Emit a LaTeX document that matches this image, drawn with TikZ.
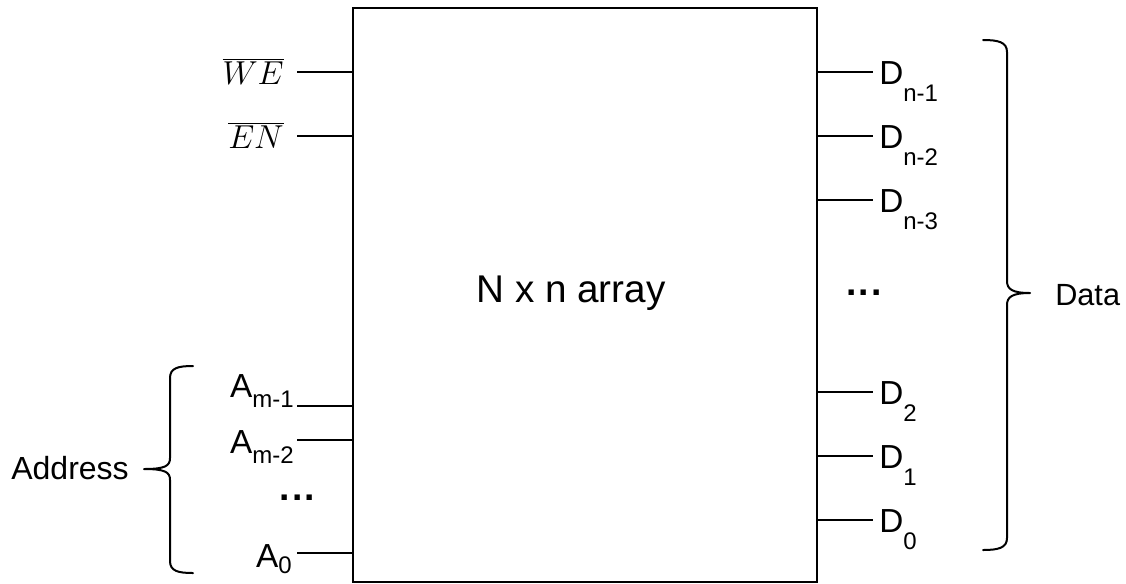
\documentclass[tikz,border=0pt]{standalone}
\usepackage{fontspec}
\setmainfont{Liberation Sans}
\newcommand{\sbs}[2][12.5pt]{\raisebox{-#1}{\fontsize{18}{18}\selectfont #2}}
\begin{document}
\begin{tikzpicture}[x=0.75pt,y=-0.75pt,
  stub/.style={line width=1.1pt},
  brc/.style={line width=1.5pt, line join=round, line cap=round},
  lbl/.style={font=\fontsize{25}{28}\selectfont, inner sep=0pt},
  dotlbl/.style={font=\fontsize{28}{30}\selectfont\bfseries, inner sep=0pt},
]
\useasboundingbox (0,0) rectangle (1126,583);
\node[draw, line width=1.5pt, minimum width=348pt, minimum height=430.5pt, inner sep=0pt] (box) at (585,295) {};
\node[inner sep=0pt, font=\fontsize{29}{32}\selectfont] (title) at (571,293) {N x n array};

% left control inputs
\coordinate (we) at (297,72);
\coordinate (en) at (297,136);
\node[font=\fontsize{25}{28}\selectfont, inner sep=0pt, anchor=base east] (weL) at (284,84) {$\overline{WE}$};
\node[font=\fontsize{25}{28}\selectfont, inner sep=0pt, anchor=base east] (enL) at (284,148) {$\overline{EN}$};
\draw[stub] (box.west |- we) -- (we);
\draw[stub] (box.west |- en) -- (en);

% address inputs
\coordinate (a1) at (297,406);
\coordinate (a2) at (297,440);
\coordinate (a0) at (297,553);
\node[lbl, anchor=base east] (a1L) at (294,397) {A\sbs[8pt]{m-1}};
\node[lbl, anchor=base east] (a2L) at (294,453) {A\sbs[8pt]{m-2}};
\node[lbl, anchor=base east] (a0L) at (292,567) {A\sbs[5pt]{0}};
\node[dotlbl] (adots) at (297.5,498) {.\kern1.5pt.\kern1.5pt.};
\draw[stub] (box.west |- a1) -- (a1);
\draw[stub] (box.west |- a2) -- (a2);
\draw[stub] (box.west |- a0) -- (a0);

% data outputs
\foreach \n/\y/\t in {d5/72/n-1, d4/136/n-2, d3/200/n-3, d2/392/2, d1/456/1, d0/520/0}{
  \coordinate (\n) at (873,\y);
  \draw[stub] (box.east |- \n) -- (\n);
  \node[lbl, anchor=base west] (\n L) at (879,\y+12.5) {D\sbs{\t}};
}
\node[dotlbl] (ddots) at (864,293) {.\kern1.5pt.\kern1.5pt.};

% address brace
\draw[brc] (193,366) .. controls (178,366) and (170,368) .. (170,378) -- (170,458)
  .. controls (170,466) and (165,469) .. (144,469)
  .. controls (165,469) and (170,472) .. (170,480) -- (170,561)
  .. controls (170,571) and (178,573) .. (193,573);
\node[lbl, font=\fontsize{24}{28}\selectfont, anchor=base east] (addr) at (129,479) {Address};

% data brace
\draw[brc] (983,40) .. controls (998,40) and (1007,42) .. (1007,52) -- (1007,281)
  .. controls (1007,289) and (1012,293) .. (1030,293)
  .. controls (1012,293) and (1007,297) .. (1007,305) -- (1007,538)
  .. controls (1007,548) and (998,550) .. (983,550);
\node[lbl, font=\fontsize{23}{28}\selectfont, anchor=base west] (data) at (1055,305) {Data};
\end{tikzpicture}
\end{document}
